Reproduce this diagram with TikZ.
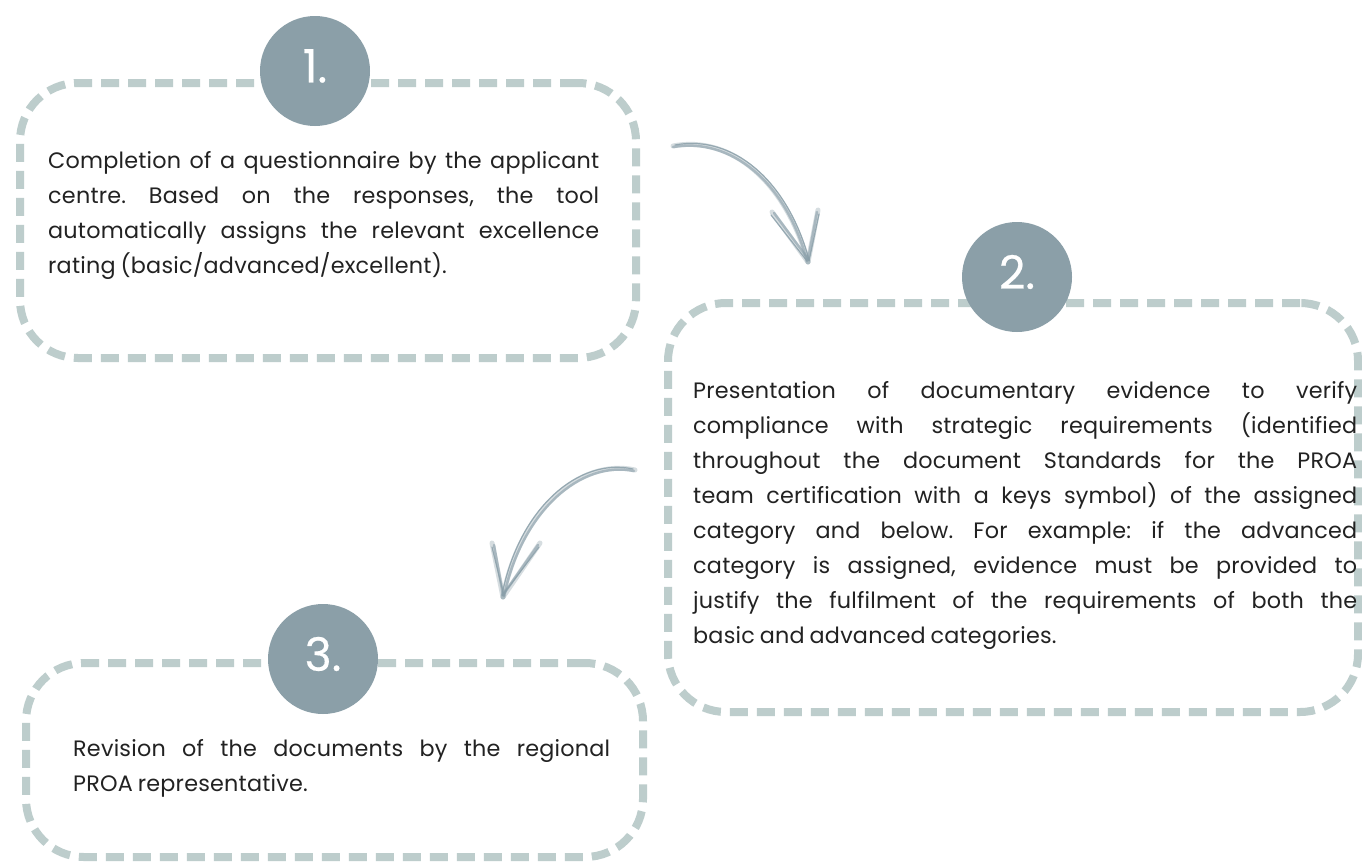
\documentclass[tikz,border=0pt]{standalone}
\usepackage{fontspec}
\setmainfont{Poppins}[WordSpace=0.8,LetterSpace=1]
\newfontfamily\numfont{Poppins}[FakeBold=0.4]
\frenchspacing
\definecolor{dashc}{HTML}{BDCDCC}
\definecolor{circc}{HTML}{8B9FA8}
\definecolor{arrc}{HTML}{8A9FA9}
\definecolor{txtc}{HTML}{222222}
\begin{document}
\begin{tikzpicture}[x=1pt,y=-1pt,
  dashbox/.style={draw=dashc, line width=8pt, dash pattern=on 18pt off 9pt, rounded corners=58pt, inner sep=0pt, outer sep=0pt, rectangle},
  numcirc/.style={circle, fill=circc, minimum size=110pt, inner sep=0pt},
  numtext/.style={text=white, inner sep=0pt, font=\numfont\fontsize{46}{46}\selectfont},
  bodytext/.style={anchor=north west, inner sep=0pt, align=justify, text=txtc, font=\fontsize{22.3}{35}\selectfont\frenchspacing},
  pencil/.style={draw=arrc, line width=5pt, line cap=round, opacity=0.35},
  pencilmid/.style={draw=arrc, line width=2.5pt, line cap=round, opacity=0.6},
  pencilthin/.style={draw=arrc, line width=1.2pt, line cap=round, opacity=0.85}]
\fill[white] (0,0) rectangle (1362,862);
\useasboundingbox (0,0) rectangle (1362,862);

% boxes
\node[dashbox, minimum width=616pt, minimum height=275pt] (b1) at (328,220.5) {};
\node[dashbox, minimum width=690pt, minimum height=409pt] (b2) at (1013,507.5) {};
\node[dashbox, minimum width=617pt, minimum height=194pt] (b3) at (334.5,760) {};

% number circles
\node[numcirc] (c1) at (315,71) {};
\node[numcirc] (c2) at (1017,277) {};
\node[numcirc] (c3) at (323,659) {};
\node[numtext] (n1) at ([yshift=5pt]c1.center) {1.};
\node[numtext] (n2) at ([yshift=5pt]c2.center) {2.};
\node[numtext] (n3) at ([yshift=5pt]c3.center) {3.};

% texts
\node[bodytext, text width=551pt] (t1) at (48,151) {Completion of a questionnaire by the applicant\linebreak centre. Based on the responses, the tool\linebreak automatically assigns the relevant excellence\linebreak rating (basic/advanced/excellent).};
\node[bodytext, text width=664pt] (t2) at (693,381.5) {Presentation of documentary evidence to verify\linebreak compliance with strategic requirements (identified\linebreak throughout the document Standards for the PROA\linebreak team certification with a keys symbol) of the assigned\linebreak category and below. For example: if the advanced\linebreak category is assigned, evidence must be provided to\linebreak justify the fulfilment of the requirements of both the\linebreak basic and advanced categories.};
\node[bodytext, text width=537pt] (t3) at (73,739) {Revision of the documents by the regional\linebreak PROA representative.};

% arrow 1
\coordinate (a1s) at (673,146);
\coordinate (a1e) at (808,262);
\coordinate (a1l) at (772,212);
\coordinate (a1r) at (818,210);
\draw[pencil] (a1s) .. controls (730,135) and (785,180) .. (a1e);
\draw[pencilmid] ([shift={(0,1)}]a1s) .. controls (731,137) and (786,182) .. ([shift={(-1,-1)}]a1e);
\draw[pencilthin] ([shift={(2,-1)}]a1s) .. controls (733,134) and (788,181) .. ([shift={(1,-2)}]a1e);
\draw[pencil] (a1l) -- (a1e);
\draw[pencil] (a1r) -- (a1e);
\draw[pencilmid] ([shift={(2,1)}]a1l) -- ([shift={(1,-2)}]a1e);
\draw[pencilmid] ([shift={(-1,2)}]a1r) -- ([shift={(0,-2)}]a1e);
\draw[pencilthin] ([shift={(-1,3)}]a1l) -- ([shift={(-1,-1)}]a1e);
\draw[pencilthin] ([shift={(1,4)}]a1r) -- ([shift={(1,-1)}]a1e);

% arrow 2
\coordinate (a2s) at (635,470);
\coordinate (a2e) at (503,597);
\coordinate (a2l) at (492,543);
\coordinate (a2r) at (540,543);
\draw[pencil] (a2s) .. controls (580,458) and (520,510) .. (a2e);
\draw[pencilmid] ([shift={(-1,1)}]a2s) .. controls (581,460) and (522,511) .. ([shift={(1,-1)}]a2e);
\draw[pencilthin] ([shift={(-2,-1)}]a2s) .. controls (579,457) and (519,508) .. ([shift={(-1,-2)}]a2e);
\draw[pencil] (a2l) -- (a2e);
\draw[pencil] (a2r) -- (a2e);
\draw[pencilmid] ([shift={(2,2)}]a2l) -- ([shift={(0,-2)}]a2e);
\draw[pencilmid] ([shift={(-2,2)}]a2r) -- ([shift={(0,-2)}]a2e);
\draw[pencilthin] ([shift={(0,4)}]a2l) -- ([shift={(1,-1)}]a2e);
\draw[pencilthin] ([shift={(-1,4)}]a2r) -- ([shift={(-1,-1)}]a2e);
\end{tikzpicture}
\end{document}
